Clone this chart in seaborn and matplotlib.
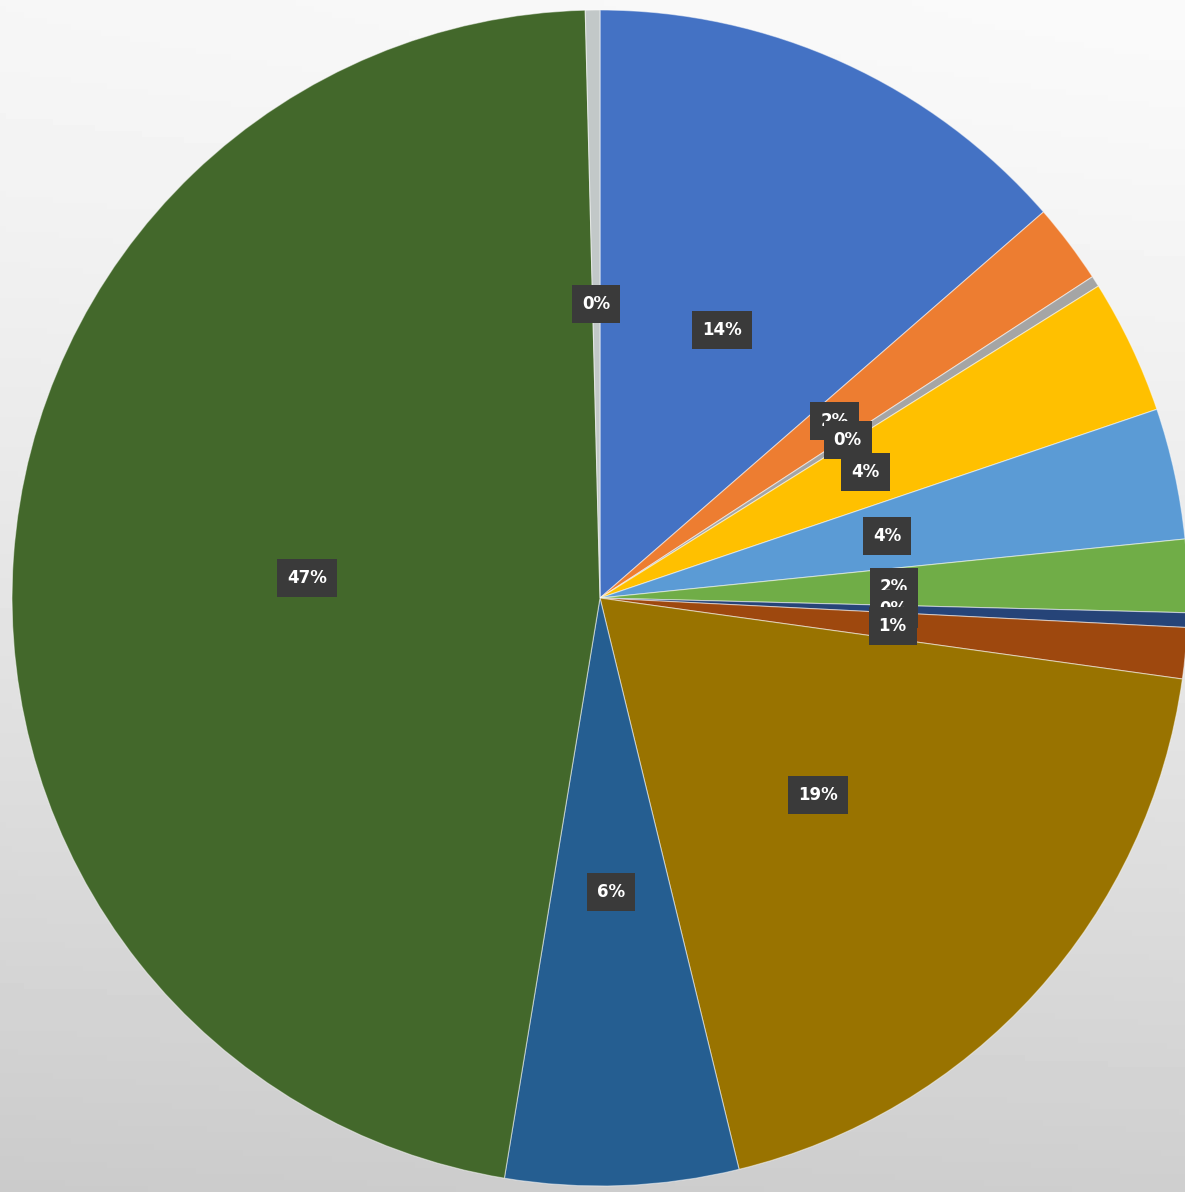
import numpy as np
import matplotlib
matplotlib.use("Agg")
import matplotlib.pyplot as plt
import seaborn as sns

sns.set_theme(style="white")

# slice shares in percent, clockwise from 12 o'clock
shares = [13.6, 2.2, 0.3, 3.7, 3.6, 2.0, 0.4, 1.4, 19.0, 6.4, 47.0, 0.4]
slice_colors = ["#4472C4", "#ED7D31", "#A5A5A5", "#FFC000", "#5B9BD5", "#70AD47",
                "#264478", "#9E480E", "#997300", "#255E91", "#43682B", "#C2C8C8"]

W, H = 1185, 1192
cx, cy, R = 600, 598, 588

fig = plt.figure(figsize=(W / 100, H / 100), dpi=100)

# grey background gradient, light at top, darker at bottom
bg = fig.add_axes([0, 0, 1, 1])
gx, gy = np.meshgrid(np.linspace(0, 1, 200), np.linspace(0, 1, 200))
grad = 0.965 - 0.17 * gy ** 1.3 + 0.015 * gx
bg.imshow(grad, cmap="gray", vmin=0, vmax=1, extent=[0, 1, 0, 1], aspect="auto")
bg.axis("off")

ax = fig.add_axes([0, 0, 1, 1])
ax.patch.set_alpha(0)
pal = sns.color_palette(slice_colors)
wedges, texts, autotexts = ax.pie(
    shares, colors=pal, startangle=90, counterclock=False, radius=1,
    autopct="%.0f%%", pctdistance=0.5,
    wedgeprops=dict(linewidth=0.8, edgecolor=(1, 1, 1, 0.5)),
    textprops=dict(color="white", fontsize=12, fontweight="bold"),
)
for t in autotexts:
    t.set_bbox(dict(boxstyle="square,pad=0.6", facecolor="#3A3A3A", edgecolor="none"))

ax.set_xlim(-cx / R, (W - cx) / R)
ax.set_ylim(-(H - cy) / R, cy / R)
ax.set_aspect("auto")
ax.axis("off")

fig.savefig("out.png", dpi=100)
